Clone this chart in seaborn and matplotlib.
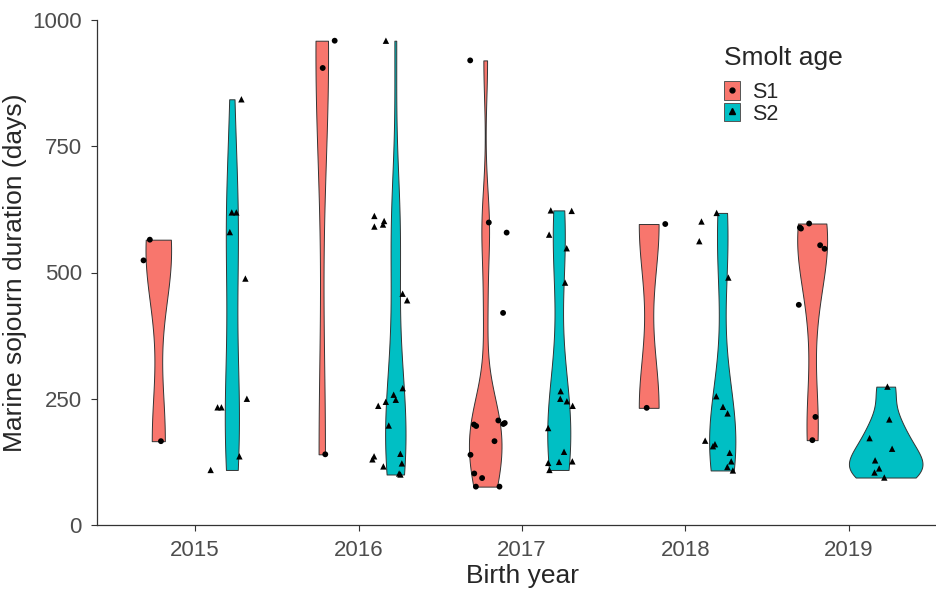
import numpy as np
import pandas as pd
import matplotlib
matplotlib.use("Agg")
import matplotlib.pyplot as plt
from matplotlib.patches import Patch
from matplotlib.lines import Line2D
import seaborn as sns

# Marine sojourn duration (days) by birth year and smolt age
years = ["2015", "2016", "2017", "2018", "2019"]
ages = ["S1", "S2"]

s1_2015 = [565, 524, 166]
s2_2015 = [843, 619, 619, 580, 488, 250, 233, 233, 136, 109]
s1_2016 = [959, 905, 140]
s2_2016 = [959, 612, 602, 591, 595, 458, 445, 271, 258, 248, 244, 236, 197,
           141, 136, 130, 122, 116, 102, 100]
s1_2017 = [920, 599, 579, 420, 207, 199, 202, 200, 196, 166, 139, 102, 93, 76, 76]
s2_2017 = [622, 623, 575, 548, 480, 265, 245, 250, 236, 192, 145, 126, 123, 125, 109]
s1_2018 = [596, 232]
s2_2018 = [618, 601, 562, 490, 255, 234, 221, 160, 156, 167, 143, 126, 115, 108]
s1_2019 = [597, 587, 589, 547, 554, 436, 214, 168]
s2_2019 = [274, 209, 172, 151, 128, 112, 104, 94]

groups = {
    ("2015", "S1"): s1_2015, ("2015", "S2"): s2_2015,
    ("2016", "S1"): s1_2016, ("2016", "S2"): s2_2016,
    ("2017", "S1"): s1_2017, ("2017", "S2"): s2_2017,
    ("2018", "S1"): s1_2018, ("2018", "S2"): s2_2018,
    ("2019", "S1"): s1_2019, ("2019", "S2"): s2_2019,
}
rows = [(yr, age, v) for (yr, age), vals in groups.items() for v in vals]
df = pd.DataFrame(rows, columns=["year", "age", "days"])

palette = {"S1": "#F8766D", "S2": "#00BFC4"}


def nrd0_factor(kde):
    """Silverman's rule of thumb (R's bw.nrd0) as a gaussian_kde factor."""
    x = np.asarray(kde.dataset).ravel()
    sd = x.std(ddof=1)
    q75, q25 = np.percentile(x, [75, 25])
    lo = min(sd, (q75 - q25) / 1.34)
    if lo <= 0:
        lo = sd if sd > 0 else 1.0
    bw = 0.9 * lo * len(x) ** -0.2
    return bw / sd


sns.set_style("ticks")
plt.rcParams["font.family"] = ["Liberation Sans", "DejaVu Sans"]

fig = plt.figure(figsize=(9.36, 5.92), dpi=100)
ax = fig.add_axes([97 / 936, 67 / 592, 850 / 936, 505 / 592])

sns.violinplot(
    data=df, x="year", y="days", hue="age", order=years, hue_order=ages,
    palette=palette, saturation=1, width=0.9, gap=0, cut=0, inner=None,
    density_norm="area", common_norm=True, bw_method=nrd0_factor,
    linewidth=0.7, linecolor="#333333", legend=False, ax=ax,
)

np.random.seed(11)
for age, mk, sz in [("S1", "o", 4.2), ("S2", "^", 4.6)]:
    sns.stripplot(
        data=df[df["age"] == age], x="year", y="days", hue="age",
        order=years, hue_order=ages, palette={"S1": "black", "S2": "black"},
        dodge=True, jitter=0.24, marker=mk, size=sz, linewidth=0,
        legend=False, ax=ax, zorder=5,
    )

ax.set_xlim(-0.6, 4.6)
ax.set_ylim(0, 1000)
ax.set_yticks([0, 250, 500, 750, 1000])
ax.set_xlabel("Birth year", fontsize=19, labelpad=2)
ax.set_ylabel("Marine sojourn duration (days)", fontsize=19, labelpad=4)
ax.tick_params(axis="both", labelsize=16, colors="#333333", labelcolor="#4D4D4D",
               length=4, width=0.8, pad=7)
for side in ["top", "right"]:
    ax.spines[side].set_visible(False)
for side in ["left", "bottom"]:
    ax.spines[side].set_color("#333333")
    ax.spines[side].set_linewidth(0.9)

handles = [
    (Patch(facecolor=palette["S1"], edgecolor="#555555", linewidth=0.7),
     Line2D([], [], marker="o", color="black", linestyle="none", markersize=3.5)),
    (Patch(facecolor=palette["S2"], edgecolor="#555555", linewidth=0.7),
     Line2D([], [], marker="^", color="black", linestyle="none", markersize=3.8)),
]
leg = fig.legend(
    handles, ages, title="Smolt age", loc="upper left",
    bbox_to_anchor=(709 / 936, 1 - 31 / 592), frameon=False, fontsize=15.5,
    title_fontsize=19, handlelength=0.72, handleheight=0.95, labelspacing=0.0,
    handletextpad=0.6, borderpad=0.2, alignment="left",
)
# extra room between the legend title and its keys
leg._legend_box.sep = 8

fig.savefig("out.png", dpi=100)
